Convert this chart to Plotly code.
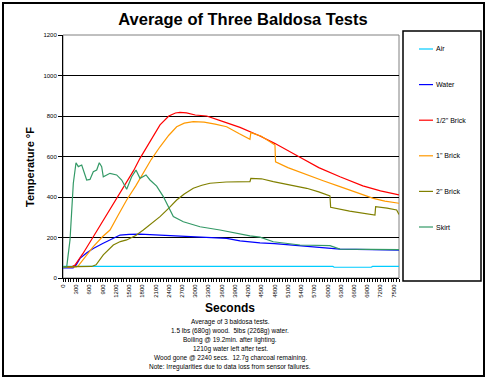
import plotly.graph_objects as go

# ---------------- data ----------------
air_t = [0, 6120, 6150, 6990, 7020, 7620]
air_v = [57, 57, 53, 53, 57, 57]

water_t = [0, 230, 300, 385, 540, 687, 900, 1066, 1293, 1500, 1746, 2200, 2600, 2955,
           3300, 3711, 4014, 4467, 4800, 5147, 5600, 6000, 6281, 7000, 7620]
water_v = [50, 50, 65, 97, 125, 146, 170, 188, 212, 215, 217, 212, 208, 204,
           200, 196, 183, 173, 170, 163, 155, 148, 143, 140, 138]

half_t = [0, 200, 272, 450, 687, 900, 1066, 1250, 1444, 1600, 1746, 2000, 2200, 2400,
          2550, 2653, 2800, 3000, 3258, 3600, 4014, 4467, 4800, 5374, 5800, 6281,
          6800, 7200, 7620]
half_v = [55, 55, 64, 120, 204, 280, 336, 400, 468, 530, 591, 680, 756, 800,
          815, 818, 815, 805, 800, 775, 744, 701, 665, 596, 545, 500,
          455, 430, 410]

one_t = [0, 300, 347, 500, 687, 900, 1066, 1250, 1444, 1650, 1821, 2000, 2200, 2400,
         2578, 2750, 2955, 3200, 3450, 3711, 4000, 4240, 4260, 4500, 4807, 4820,
         5100, 5526, 5900, 6281, 6700, 7037, 7300, 7620]
one_v = [55, 55, 60, 105, 155, 205, 237, 310, 385, 455, 517, 585, 648, 705,
         747, 765, 772, 770, 760, 747, 712, 685, 718, 700, 657, 574,
         545, 509, 480, 451, 420, 393, 380, 369]

two_t = [0, 650, 750, 914, 1141, 1300, 1444, 1650, 1821, 2000, 2200, 2400, 2578, 2750,
         2955, 3150, 3333, 3700, 4240, 4260, 4500, 4769, 5100, 5526, 5800, 6054,
         6070, 6500, 7075, 7090, 7350, 7567, 7620]
two_v = [55, 57, 65, 114, 163, 180, 188, 210, 237, 268, 303, 345, 385, 415,
         443, 458, 468, 474, 476, 492, 490, 476, 460, 443, 425, 405,
         349, 330, 311, 352, 345, 336, 314]

skirt_t = [0, 84, 159, 234, 295, 347, 424, 460, 537, 612, 687, 764, 823, 877, 914,
           1066, 1217, 1331, 1444, 1557, 1655, 1746, 1882, 1973, 2124, 2275, 2388,
           2502, 2729, 3107, 3560, 4014, 4240, 4467, 4769, 5374, 6054, 6281, 7620]
skirt_v = [55, 55, 188, 468, 569, 550, 558, 533, 484, 487, 525, 533, 569, 550, 500,
           517, 509, 484, 438, 500, 533, 492, 509, 484, 454, 402, 352,
           303, 278, 253, 237, 216, 208, 202, 179, 163, 160, 143, 140]

series_names = ["Air", "Water", "1/2\" Brick", "1\" Brick", "2\" Brick", "Skirt"]
series_colors = ["#00CCFF", "#0000FF", "#FF0000", "#FF9900", "#808000", "#339966"]
series_t = [air_t, water_t, half_t, one_t, two_t, skirt_t]
series_v = [air_v, water_v, half_v, one_v, two_v, skirt_v]

x_tick_vals = list(range(0, 7501, 300))
y_tick_vals = [0, 200, 400, 600, 800, 1000, 1200]

note_lines = [
    "Average of 3 baldosa tests.",
    "1.5 lbs (680g) wood.  5lbs (2268g) water.",
    "Boiling @ 19.2min. after lighting.",
    "1210g water left after test.",
    "Wood gone @ 2240 secs.  12.7g charcoal remaining.",
    "Note: Irregularities due to data loss from sensor failures.",
]

# ---------------- layout helpers ----------------
W, H = 489, 380
L, R, T, B = 63, 399, 35, 278
FONT = "Liberation Sans, Arial, sans-serif"


def px(x):
    return (x - L) / (R - L)


def py(y):
    return (B - y) / (B - T)


fig = go.Figure()
for name, color, t, v in zip(series_names, series_colors, series_t, series_v):
    fig.add_trace(go.Scatter(x=t, y=v, mode="lines", name=name,
                             line=dict(color=color, width=1.2),
                             showlegend=False, hoverinfo="skip"))

shapes = [
    # plot area frame (gray top/right)
    dict(type="rect", xref="paper", yref="paper", x0=0, x1=1, y0=0, y1=1,
         line=dict(color="#808080", width=1), layer="below"),
    # outer chart border
    dict(type="rect", xref="paper", yref="paper", x0=px(3), x1=px(484),
         y0=py(376), y1=py(3), line=dict(color="black", width=2)),
    # legend box
    dict(type="rect", xref="paper", yref="paper", x0=px(403), x1=px(481),
         y0=py(281), y1=py(31), line=dict(color="black", width=1.5)),
]
annotations = []

# legend entries
for i, (name, color) in enumerate(zip(series_names, series_colors)):
    yc = 49 + i * 35.6
    shapes.append(dict(type="line", xref="paper", yref="paper",
                       x0=px(419), x1=px(433), y0=py(yc), y1=py(yc),
                       line=dict(color=color, width=1.2)))
    annotations.append(dict(xref="paper", yref="paper", x=px(434), y=py(yc),
                            text=name, showarrow=False, xanchor="left",
                            yanchor="middle",
                            font=dict(family=FONT, size=7, color="black")))

# axis titles
annotations.append(dict(xref="paper", yref="paper", x=px(230), y=py(308),
                        text="<b>Seconds</b>", showarrow=False,
                        xanchor="center", yanchor="middle",
                        font=dict(family=FONT, size=12, color="black")))
annotations.append(dict(xref="paper", yref="paper", x=px(30), y=py(167),
                        text="<b>Temperature °F</b>", showarrow=False,
                        textangle=-90, xanchor="center", yanchor="middle",
                        font=dict(family=FONT, size=11, color="black")))

# notes
for i, line in enumerate(note_lines):
    annotations.append(dict(xref="paper", yref="paper", x=px(230),
                            y=py(321.7 + i * 9.1), text=line, showarrow=False,
                            xanchor="center", yanchor="middle",
                            font=dict(family=FONT, size=6.5, color="black")))

fig.update_layout(
    width=W, height=H, autosize=False,
    margin=dict(l=L, r=W - R, t=T, b=H - B, pad=0),
    paper_bgcolor="white", plot_bgcolor="white",
    title=dict(text="<b>Average of Three Baldosa Tests</b>", xref="container",
               yref="container", x=243 / W, y=1 - 19 / H,
               xanchor="center", yanchor="middle",
               font=dict(family=FONT, size=16.5, color="black")),
    font=dict(family=FONT, size=6, color="black"),
    shapes=shapes, annotations=annotations,
    hovermode=False,
)

fig.update_xaxes(range=[0, 7620], tickmode="array", tickvals=x_tick_vals,
                 ticktext=[str(v) for v in x_tick_vals], tickangle=-90,
                 ticks="outside", ticklen=3, tickcolor="black", tickwidth=1,
                 minor=dict(dtick=60, tick0=0, ticks="outside", ticklen=3,
                            tickcolor="black", tickwidth=1, showgrid=False),
                 showline=True, linecolor="black", linewidth=1,
                 showgrid=False, zeroline=False,
                 tickfont=dict(family=FONT, size=6, color="black"))

fig.update_yaxes(range=[0, 1200], tickmode="array", tickvals=y_tick_vals,
                 ticks="outside", ticklen=4, tickcolor="black", tickwidth=1,
                 showline=True, linecolor="black", linewidth=1,
                 showgrid=True, gridcolor="black", gridwidth=1,
                 zeroline=False,
                 tickfont=dict(family=FONT, size=6, color="black"))

fig.write_html("out.html",
               config={"displayModeBar": False, "staticPlot": True},
               post_script="document.body.style.margin='0';"
                           "document.body.style.padding='0';")
